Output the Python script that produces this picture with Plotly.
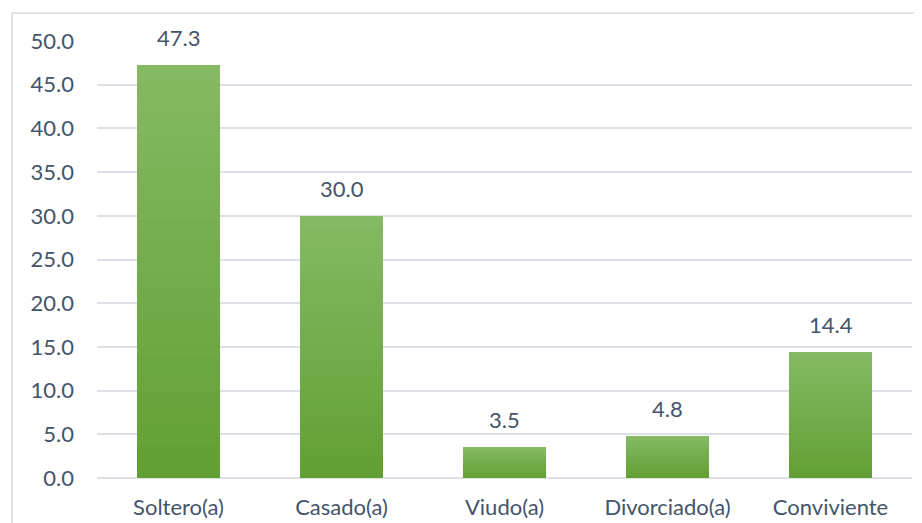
import plotly.graph_objects as go

categories = ["Soltero(a)", "Casado(a)", "Viudo(a)", "Divorciado(a)", "Conviviente"]
values = [47.3, 30.0, 3.5, 4.8, 14.4]
tick_vals = [0, 5, 10, 15, 20, 25, 30, 35, 40, 45, 50]

# page has an 8px body margin, so the figure is drawn 8px in from the corner
W, H = 914, 515
ml, mr, mt, mb = 89, 10, 33, 45

top_rgb = (133, 185, 99)
bot_rgb = (98, 160, 51)
N = 24
FONT = "Lato, Noto Sans, sans-serif"
TXT = "#44546A"

fig = go.Figure()
for i in range(N):
    t = i / (N - 1)
    c = tuple(round(bot_rgb[k] + (top_rgb[k] - bot_rgb[k]) * t) for k in range(3))
    fig.add_trace(go.Bar(
        x=categories, y=[v / N for v in values],
        marker=dict(color="rgb(%d,%d,%d)" % c, line=dict(width=0)),
        showlegend=False, hoverinfo="skip"))

for cat, v in zip(categories, values):
    fig.add_annotation(x=cat, y=v, text="%.1f" % v, showarrow=False,
                       yanchor="bottom", yshift=12,
                       font=dict(family=FONT, size=22, color=TXT))

# outer frame
fx0 = (4 - ml) / (W - ml - mr)
fy1 = 1 + (mt - 5) / (H - mt - mb)
fig.add_shape(type="line", xref="paper", yref="paper", x0=fx0, x1=fx0, y0=-1, y1=fy1,
              line=dict(color="#D9D9D9", width=1.5))
fig.add_shape(type="line", xref="paper", yref="paper", x0=fx0, x1=1.5, y0=fy1, y1=fy1,
              line=dict(color="#D9D9D9", width=1.5))

fig.update_layout(
    width=W, height=H,
    margin=dict(l=ml, r=mr, t=mt, b=mb, autoexpand=False),
    barmode="stack", bargap=0.49,
    paper_bgcolor="white", plot_bgcolor="white",
    font=dict(family=FONT, size=22, color=TXT),
    xaxis=dict(showgrid=False, showline=False, ticks="", automargin=False,
               ticklabelstandoff=14,
               tickfont=dict(family=FONT, size=22, color=TXT)),
    yaxis=dict(range=[0, 50], tickvals=tick_vals, tickformat=".1f", automargin=False,
               showgrid=True, gridcolor="#DCE1E8", gridwidth=1.5,
               zeroline=True, zerolinecolor="#DCE1E8", zerolinewidth=1.5,
               showline=False, ticks="", ticklabelstandoff=22,
               tickfont=dict(family=FONT, size=22, color=TXT)),
)

fig.write_html("out.html")
